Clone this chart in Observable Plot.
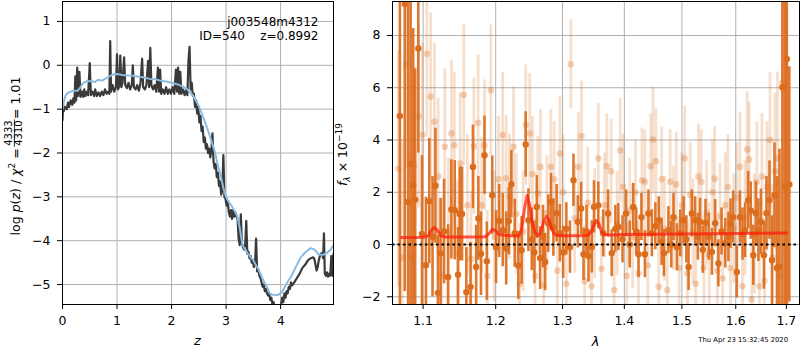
<!DOCTYPE html>
<html><head><meta charset="utf-8">
<script src="https://cdn.jsdelivr.net/npm/d3@7"></script>
<script src="https://cdn.jsdelivr.net/npm/@observablehq/plot@0.6"></script>
<style>
body{margin:0;background:#fff;}
#fig{position:relative;width:800px;height:350px;font-family:"DejaVu Sans",sans-serif;}
#fig svg{position:absolute;top:0;}
</style></head><body><div id="fig"></div>
<script>
// ---------- data: left panel ----------
const zTicks = [0, 1, 2, 3, 4];
const logpTicks = [-5, -4, -3, -2, -1, 0, 1];
const pzNoisy = [[0.00,-1.25],[0.01,-0.9],[0.02,-1.05],[0.05,-0.95],[0.08,-1.0],[0.10,-0.85],[0.12,-0.95],[0.15,-0.8],[0.18,-0.9],[0.20,-0.75],[0.22,-0.85],[0.235,-0.25],[0.25,-0.8],[0.27,-0.05],[0.285,-0.7],[0.31,-0.15],[0.33,-0.72],[0.36,-0.6],[0.38,-0.72],[0.40,-0.55],[0.42,-0.7],[0.45,-0.6],[0.47,-0.68],[0.50,0.05],[0.52,-0.68],[0.55,-0.6],[0.58,-0.7],[0.60,-0.55],[0.63,-0.7],[0.66,-0.62],[0.69,-0.7],[0.72,-0.6],[0.75,-0.68],[0.78,-0.55],[0.81,-0.65],[0.84,-0.6],[0.86,-0.65],[0.875,0.55],[0.89,-0.6],[0.92,-0.45],[0.95,-0.6],[0.98,-0.5],[1.00,0.25],[1.02,-0.55],[1.045,-0.45],[1.06,0.22],[1.08,-0.5],[1.10,-0.4],[1.13,0.18],[1.15,-0.45],[1.18,-0.52],[1.21,-0.4],[1.24,-0.55],[1.27,-0.45],[1.29,0.0],[1.31,-0.5],[1.34,-0.55],[1.37,-0.45],[1.40,-0.58],[1.43,-0.42],[1.46,0.15],[1.48,-0.5],[1.51,-0.55],[1.54,-0.45],[1.57,0.1],[1.59,-0.5],[1.61,0.4],[1.63,-0.45],[1.66,-0.55],[1.69,-0.45],[1.72,-0.6],[1.75,-0.05],[1.77,-0.6],[1.79,-0.1],[1.81,-0.65],[1.84,-0.55],[1.87,-0.65],[1.90,-0.5],[1.93,-0.65],[1.96,-0.55],[1.99,-0.65],[2.02,-0.5],[2.05,-0.65],[2.08,-0.1],[2.10,-0.6],[2.12,-0.05],[2.14,-0.65],[2.16,-0.15],[2.18,-0.65],[2.21,-0.55],[2.24,-0.68],[2.27,-0.55],[2.29,-0.68],[2.31,0.1],[2.33,0.42],[2.35,-0.55],[2.37,-0.4],[2.39,-0.7],[2.41,-0.65],[2.43,-0.95],[2.45,-0.8],[2.47,-1.1],[2.49,-0.95],[2.51,-1.3],[2.53,-1.15],[2.55,-1.5],[2.57,-1.4],[2.59,-1.75],[2.61,-1.65],[2.63,-1.9],[2.65,-1.8],[2.67,-2.0],[2.69,-1.9],[2.71,-2.1],[2.73,-1.95],[2.75,-1.55],[2.77,-2.2],[2.79,-2.35],[2.81,-2.25],[2.83,-2.55],[2.85,-2.45],[2.87,-2.75],[2.89,-2.65],[2.91,-2.95],[2.93,-2.85],[2.95,-2.05],[2.97,-3.0],[2.99,-3.05],[3.01,-3.2],[3.03,-3.1],[3.05,-3.35],[3.07,-3.45],[3.09,-3.3],[3.11,-3.5],[3.13,-3.3],[3.15,-3.45],[3.17,-3.35],[3.19,-3.45],[3.21,-3.5],[3.23,-3.95],[3.25,-4.1],[3.27,-3.4],[3.29,-4.05],[3.31,-4.15],[3.33,-4.2],[3.35,-4.1],[3.37,-3.55],[3.39,-4.3],[3.41,-4.25],[3.43,-4.4],[3.45,-4.35],[3.47,-4.5],[3.49,-4.45],[3.51,-4.6],[3.53,-4.55],[3.55,-3.95],[3.57,-4.7],[3.59,-4.65],[3.61,-4.8],[3.63,-4.85],[3.65,-4.95],[3.67,-5.05],[3.69,-5.0],[3.71,-5.15],[3.73,-5.1],[3.75,-5.2],[3.77,-5.25],[3.79,-5.2],[3.81,-5.35],[3.83,-5.3],[3.85,-5.45],[3.87,-5.4],[3.89,-5.55],[3.91,-5.5],[3.93,-5.6],[3.95,-5.55],[3.97,-5.5],[3.99,-5.55],[4.01,-5.45],[4.03,-5.3],[4.05,-5.4],[4.07,-5.2],[4.09,-5.3],[4.11,-5.15],[4.13,-5.2],[4.15,-5.05],[4.17,-5.1],[4.19,-4.95],[4.21,-5.02],[4.25,-4.95],[4.30,-4.85],[4.35,-4.75],[4.40,-4.62],[4.45,-4.55],[4.50,-4.45],[4.55,-4.4],[4.60,-4.38],[4.62,-4.42],[4.64,-4.55],[4.66,-4.68],[4.68,-4.6],[4.70,-4.45],[4.72,-4.35],[4.74,-4.3],[4.76,-4.28],[4.78,-4.4],[4.795,-3.83],[4.81,-4.75],[4.83,-4.8],[4.85,-4.72],[4.87,-4.82],[4.89,-4.75],[4.91,-4.8],[4.93,-4.35],[4.95,-4.8],[4.97,-4.3]];
const pzSmooth = [[0,-1.0],[0.03,-0.8],[0.06,-0.68],[0.1,-0.63],[0.15,-0.6],[0.2,-0.58],[0.28,-0.58],[0.33,-0.5],[0.38,-0.4],[0.45,-0.36],[0.55,-0.37],[0.6,-0.38],[0.65,-0.33],[0.72,-0.35],[0.8,-0.3],[0.86,-0.25],[0.92,-0.21],[1.0,-0.2],[1.1,-0.22],[1.2,-0.23],[1.3,-0.24],[1.4,-0.26],[1.5,-0.28],[1.6,-0.31],[1.7,-0.32],[1.8,-0.35],[1.9,-0.37],[2.0,-0.4],[2.1,-0.43],[2.2,-0.48],[2.3,-0.56],[2.4,-0.7],[2.5,-0.93],[2.6,-1.25],[2.7,-1.6],[2.75,-1.8],[2.8,-2.0],[2.85,-2.3],[2.9,-2.5],[2.95,-2.8],[3.0,-3.0],[3.05,-3.12],[3.1,-3.2],[3.2,-3.42],[3.25,-3.7],[3.3,-4.1],[3.35,-4.2],[3.4,-4.3],[3.5,-4.45],[3.6,-4.67],[3.7,-4.95],[3.75,-5.05],[3.8,-5.2],[3.85,-5.23],[3.95,-5.24],[4.02,-5.18],[4.1,-5.0],[4.2,-4.8],[4.3,-4.55],[4.37,-4.38],[4.45,-4.27],[4.55,-4.17],[4.62,-4.2],[4.7,-4.32],[4.78,-4.32],[4.85,-4.28],[4.92,-4.2],[4.97,-4.1]];
const objName = "j003548m4312";
const objInfo = "ID=540\u00a0\u00a0\u00a0\u00a0z=0.8992";

// ---------- data: right panel ----------
const lamTicks = [1.1, 1.2, 1.3, 1.4, 1.5, 1.6, 1.7];
const fluxTicks = [-2, 0, 2, 4, 6, 8];
// [lambda, flux, error]
const specDark = [[1.0698,4.92,10],[1.0761,9.2,11],[1.0804,1.63,8],[1.0837,3.08,7],[1.0870,2.27,6],[1.0896,1.72,5],[1.0937,7.5,4],[1.0985,0.4,3],[1.1037,-0.79,2.6],[1.1082,1.66,2.4],[1.1125,0.3,2.3],[1.1164,2.25,2.2],[1.1197,-1.85,2.2],[1.1233,-0.34,2.1],[1.1280,0.5,2.0],[1.1334,-1.24,2.0],[1.1379,1.34,1.9],[1.1425,1.31,1.9],[1.1471,-1.15,1.8],[1.1493,1.17,1.8],[1.1526,1.17,1.8],[1.1585,-1.82,1.7],[1.1644,-1.62,1.7],[1.1677,2.97,1.6],[1.1722,-0.86,1.6],[1.1753,1.0,1.6],[1.1790,-0.35,1.6],[1.1840,3.42,1.5],[1.1873,-0.64,1.5],[1.1950,1.89,1.5],[1.2005,-0.1,1.4],[1.2050,0.9,1.4],[1.2102,0.55,1.4],[1.2152,-0.15,1.4],[1.2190,0.9,1.3],[1.2227,2.31,1.3],[1.2277,0.43,1.3],[1.2330,-0.8,1.3],[1.2379,-0.22,1.3],[1.2439,3.83,1.25],[1.2480,0.93,1.2],[1.2530,0.2,1.2],[1.2570,-0.3,1.2],[1.2606,1.44,1.2],[1.2656,-0.52,1.2],[1.2700,0.3,1.2],[1.2732,-0.67,1.1],[1.2780,0.8,1.1],[1.2823,1.63,1.1],[1.2859,0.65,1.1],[1.2909,1.2,1.1],[1.2959,0.43,1.1],[1.3010,-0.3,1.0],[1.3060,0.6,1.0],[1.3117,-0.1,1.0],[1.3172,2.46,1.0],[1.3241,0.87,1.0],[1.3294,1.38,1.0],[1.3332,-0.37,1.0],[1.3380,0.5,1.0],[1.3412,-0.44,1.0],[1.3465,-0.09,1.0],[1.3500,1.44,1.0],[1.3570,1.5,0.9],[1.3650,0.43,0.9],[1.3730,1.19,0.9],[1.3790,-0.33,0.9],[1.3850,0.6,0.9],[1.3900,0.67,0.9],[1.3970,0.2,0.9],[1.4030,1.19,0.9],[1.4090,0.0,0.9],[1.4150,1.44,0.9],[1.4200,0.5,0.9],[1.4240,-0.37,0.9],[1.4290,1.05,0.9],[1.4350,-0.37,0.9],[1.4410,1.19,0.9],[1.4470,0.43,0.9],[1.4530,0.7,0.9],[1.4590,0.93,0.9],[1.4640,0.1,0.9],[1.4680,-0.33,0.9],[1.4760,0.55,0.9],[1.4810,0.0,0.9],[1.4850,1.05,0.9],[1.4910,-0.1,0.9],[1.4970,0.43,0.9],[1.5030,0.93,0.9],[1.5080,0.2,0.9],[1.5120,-0.86,0.9],[1.5180,1.19,0.9],[1.5240,0.93,0.9],[1.5290,0.3,0.9],[1.5330,0.87,0.9],[1.5380,-0.2,0.9],[1.5430,0.83,0.9],[1.5490,0.3,0.9],[1.5550,-0.28,0.9],[1.5610,0.82,0.9],[1.5670,-0.72,0.9],[1.5730,0.5,0.9],[1.5800,0.05,0.95],[1.5860,0.29,0.95],[1.5900,0.8,0.95],[1.5950,1.05,1.0],[1.6020,-1.05,1.0],[1.6080,1.05,1.0],[1.6130,0.4,1.0],[1.6180,0.55,1.05],[1.6240,1.70,1.1],[1.6290,1.3,1.1],[1.6340,-0.41,1.15],[1.6390,1.2,1.2],[1.6440,0.55,1.2],[1.6490,0.87,1.25],[1.6550,-0.41,1.3],[1.6600,1.2,1.4],[1.6660,1.7,1.5],[1.6710,-0.6,1.7],[1.6760,1.89,2.0],[1.6810,-0.9,3.5],[1.6860,-0.85,4.5],[1.6920,6.02,10],[1.6970,2.2,12],[1.7010,7.1,12],[1.7060,2.3,4.5]];
const specLight = [[1.068,2.9,4.5],[1.073,-0.5,4.5],[1.078,6.9,4],[1.083,-0.47,4],[1.088,3.0,3.8],[1.094,4.9,3.5],[1.099,4.2,3.5],[1.105,7.3,3.2],[1.110,5.66,3.2],[1.115,4.7,3.0],[1.120,2.6,3.0],[1.125,-1.2,3.0],[1.129,3.74,3.0],[1.134,0.5,2.8],[1.138,4.25,2.8],[1.142,3.8,2.8],[1.146,-0.33,2.8],[1.150,3.1,2.7],[1.155,5.72,2.7],[1.160,1.5,2.7],[1.165,-0.55,2.6],[1.169,3.76,2.6],[1.175,4.66,2.6],[1.180,1.5,2.6],[1.184,3.8,2.5],[1.188,-1.2,2.5],[1.193,5.9,2.5],[1.198,0.3,2.5],[1.204,2.5,2.4],[1.210,4.19,2.4],[1.215,2.53,2.4],[1.220,1.83,2.4],[1.226,3.74,2.3],[1.230,1.17,2.3],[1.235,-1.5,2.3],[1.240,0.5,2.3],[1.244,4.57,2.3],[1.250,4.25,2.3],[1.254,2.7,2.2],[1.258,-1.2,2.2],[1.262,1.95,2.2],[1.266,2.97,2.2],[1.271,-1.56,2.2],[1.276,1.2,2.2],[1.282,2.97,2.2],[1.287,2.5,2.2],[1.292,-1.0,2.2],[1.296,3.48,2.2],[1.301,2.0,2.2],[1.306,-1.5,2.2],[1.313,6.9,1.7],[1.319,1.0,2.1],[1.325,2.97,2.1],[1.330,4.15,2.1],[1.335,-1.4,2.1],[1.340,1.6,2.1],[1.346,-1.6,2.1],[1.351,0.8,2.1],[1.357,3.29,2.1],[1.362,-0.93,2.0],[1.367,1.5,2.0],[1.371,3.0,2.0],[1.378,2.8,2.0],[1.383,-1.74,2.0],[1.388,0.8,2.0],[1.393,3.6,2.0],[1.398,2.21,2.0],[1.404,-1.2,2.0],[1.409,1.3,2.0],[1.414,0.3,2.0],[1.419,2.0,2.0],[1.424,-1.1,2.0],[1.430,2.46,2.0],[1.435,2.4,2.0],[1.440,-0.8,2.0],[1.445,3.0,2.0],[1.449,4.02,2.0],[1.454,3.19,2.0],[1.459,-1.62,2.0],[1.464,2.5,2.0],[1.469,0.6,2.0],[1.474,-1.74,2.0],[1.479,2.4,2.0],[1.485,1.0,2.0],[1.490,2.3,2.0],[1.495,-0.9,2.0],[1.500,1.5,2.0],[1.505,3.3,2.0],[1.510,-1.1,2.0],[1.515,1.9,2.0],[1.520,0.5,2.0],[1.525,-1.5,2.0],[1.530,2.6,2.0],[1.535,2.4,2.0],[1.540,-0.9,2.0],[1.545,1.2,2.0],[1.550,-0.4,2.0],[1.556,2.0,2.0],[1.560,2.52,2.0],[1.565,-1.0,2.0],[1.570,1.1,2.0],[1.575,-1.3,2.0],[1.580,1.5,2.0],[1.585,2.2,2.0],[1.590,-0.9,2.0],[1.596,0.6,2.1],[1.602,1.8,2.1],[1.608,2.97,2.1],[1.613,-1.6,2.1],[1.618,1.0,2.2],[1.622,3.64,2.2],[1.626,3.25,2.2],[1.631,-2.1,2.2],[1.636,0.4,2.3],[1.641,2.4,2.3],[1.646,-1.6,2.3],[1.651,2.6,2.4],[1.656,-1.4,2.4],[1.661,2.2,2.5],[1.667,4.0,2.6],[1.672,-0.5,2.8],[1.677,2.8,3.0],[1.682,3.3,3.3],[1.687,-1.2,3.6],[1.692,6.2,4.0],[1.697,4.5,5],[1.702,2.1,5]];
const specModel = [[1.072,0.27],[1.090,0.27],[1.100,0.28],[1.107,0.33],[1.111,0.55],[1.115,0.66],[1.119,0.55],[1.124,0.33],[1.130,0.29],[1.150,0.29],[1.170,0.29],[1.185,0.30],[1.190,0.40],[1.195,0.58],[1.199,0.55],[1.204,0.40],[1.210,0.36],[1.225,0.33],[1.234,0.33],[1.238,0.6],[1.242,1.35],[1.246,1.88],[1.250,1.5],[1.254,0.8],[1.258,0.45],[1.262,0.33],[1.266,0.45],[1.270,0.8],[1.275,1.08],[1.279,0.95],[1.283,0.6],[1.288,0.38],[1.295,0.34],[1.320,0.34],[1.340,0.35],[1.346,0.5],[1.350,0.75],[1.354,0.92],[1.358,0.8],[1.362,0.5],[1.367,0.38],[1.375,0.36],[1.400,0.38],[1.450,0.39],[1.500,0.40],[1.550,0.41],[1.600,0.42],[1.650,0.43],[1.700,0.44]];
const stamp = "Thu Apr 23 15:32:45 2020";

// ---------- build ----------
const FONT = "DejaVu Sans";
const fig = document.getElementById("fig");
const minus = d => (d < 0 ? "\u2212" + Math.abs(d) : String(d));
const GRID = "#b0b0b0";
const ORANGE = "#db6d1d";

const zDom = [0, 4.97], pDom = [-5.455, 1.455];
const left = Plot.plot({
  width: 340, height: 350,
  marginLeft: 62, marginRight: 7, marginTop: 1, marginBottom: 46,
  style: {fontFamily: FONT, fontSize: "12.5px", color: "black", background: "transparent", overflow: "visible"},
  x: {domain: zDom, ticks: zTicks, tickSize: 5, tickPadding: 7, tickFormat: minus, label: null},
  y: {domain: pDom, ticks: logpTicks, tickSize: 5, tickPadding: 7, tickFormat: minus, label: null},
  marks: [
    Plot.ruleX(zTicks, {stroke: GRID, strokeWidth: 1}),
    Plot.ruleY(logpTicks, {stroke: GRID, strokeWidth: 1}),
    Plot.line(pzNoisy, {x: d => d[0], y: d => d[1], stroke: "#3a3a3a", strokeWidth: 2.2, clip: true}),
    Plot.line(pzSmooth, {x: d => d[0], y: d => d[1], stroke: "#8cbbe0", strokeWidth: 2, clip: true}),
    Plot.text([objName + "\n" + objInfo], {frameAnchor: "top-right", textAnchor: "end", lineAnchor: "top", dx: -15, dy: 15, fontSize: 12, lineHeight: 1.15, fill: "black"}),
    Plot.frame({stroke: "black", strokeWidth: 1})
  ]
});
left.style.left = "0px";
fig.appendChild(left);

const lDom = [1.0604, 1.727], fDom = [-2.295, 9.3];
const cl = v => Math.max(fDom[0], Math.min(fDom[1], v));
const right = Plot.plot({
  width: 460, height: 350,
  marginLeft: 52, marginRight: 1, marginTop: 1, marginBottom: 46,
  style: {fontFamily: FONT, fontSize: "12.5px", color: "black", background: "transparent", overflow: "visible"},
  x: {type: "log", domain: lDom, ticks: lamTicks, tickSize: 5, tickPadding: 7, tickFormat: d3.format(".1f"), label: null},
  y: {domain: fDom, ticks: fluxTicks, tickSize: 5, tickPadding: 7, tickFormat: minus, label: null},
  marks: [
    Plot.ruleX(lamTicks, {stroke: GRID, strokeWidth: 1}),
    Plot.ruleY(fluxTicks, {stroke: GRID, strokeWidth: 1}),
    Plot.ruleX(specLight, {x: d => d[0], y1: d => cl(d[1] - d[2]), y2: d => cl(d[1] + d[2]), stroke: ORANGE, strokeOpacity: 0.22, strokeWidth: 2.8, clip: true}),
    Plot.dot(specLight, {x: d => d[0], y: d => d[1], r: 3.3, fill: ORANGE, fillOpacity: 0.3, stroke: "none", clip: true}),
    Plot.ruleX(specDark, {x: d => d[0], y1: d => cl(d[1] - d[2]), y2: d => cl(d[1] + d[2]), stroke: ORANGE, strokeOpacity: 0.92, strokeWidth: 2.6, clip: true}),
    Plot.dot(specDark, {x: d => d[0], y: d => d[1], r: 3.2, fill: ORANGE, stroke: "none", clip: true}),
    Plot.line(specModel, {x: d => d[0], y: d => d[1], stroke: "#ff1a0a", strokeOpacity: 0.72, strokeWidth: 3, clip: true}),
    Plot.ruleY([0], {stroke: "black", strokeWidth: 2, strokeDasharray: "2.5,3"}),
    Plot.frame({stroke: "black", strokeWidth: 1})
  ]
});
right.style.left = "340px";
fig.appendChild(right);

// ---------- axis labels (real text) ----------
const ov = d3.select(fig).append("svg")
  .attr("width", 800).attr("height", 350)
  .style("left", "0px").style("top", "0px").style("position", "absolute")
  .style("white-space", "pre")
  .attr("font-family", FONT).attr("fill", "black");

ov.append("text").attr("x", 197.5).attr("y", 345).attr("text-anchor", "middle")
  .attr("font-size", 13).attr("font-style", "italic").text("z");
ov.append("text").attr("x", 595.5).attr("y", 345.5).attr("text-anchor", "middle")
  .attr("font-size", 13).attr("font-style", "italic").text("λ");
ov.append("text").attr("x", 788).attr("y", 342).attr("text-anchor", "end")
  .attr("font-size", 6.8).text(stamp);

// left y label with fraction
const g = ov.append("g").attr("transform", "translate(20,156) rotate(-90)").attr("font-size", 12.5);
const t1 = g.append("text");
t1.append("tspan").text("log ");
t1.append("tspan").attr("font-style", "italic").text("p");
t1.append("tspan").text("(");
t1.append("tspan").attr("font-style", "italic").text("z");
t1.append("tspan").text(") / ");
t1.append("tspan").attr("font-style", "italic").text("χ");
t1.append("tspan").attr("font-size", 9).attr("dy", -5).text("2");
t1.append("tspan").attr("dy", 5).text(" = ");
const num = g.append("text").attr("font-size", 10).attr("text-anchor", "middle").attr("y", -8).text("4333");
const den = g.append("text").attr("font-size", 10).attr("text-anchor", "middle").attr("y", 2).text("4310");
const t3 = g.append("text").text(" = 1.01");
const w1 = t1.node().getComputedTextLength() + 1;
const wf = Math.max(num.node().getComputedTextLength(), den.node().getComputedTextLength()) + 3;
const w3 = t3.node().getComputedTextLength();
const x0 = -(w1 + wf + w3) / 2;
t1.attr("x", x0);
num.attr("x", x0 + w1 + wf / 2);
den.attr("x", x0 + w1 + wf / 2);
g.append("line").attr("x1", x0 + w1 + 0.5).attr("x2", x0 + w1 + wf - 0.5).attr("y1", -5.6).attr("y2", -5.6)
  .attr("stroke", "black").attr("stroke-width", 0.8);
t3.attr("x", x0 + w1 + wf);

// right y label
const g2 = ov.append("g").attr("transform", "translate(347,154.5) rotate(-90)").attr("font-size", 12.5);
const t4 = g2.append("text").attr("text-anchor", "middle");
t4.append("tspan").attr("font-style", "italic").text("f");
t4.append("tspan").attr("font-style", "italic").attr("font-size", 9).attr("dy", 3).text("λ");
t4.append("tspan").attr("dy", -3).text(" × 10");
t4.append("tspan").attr("font-size", 9).attr("dy", -5).text("\u221219");
</script></body></html>
